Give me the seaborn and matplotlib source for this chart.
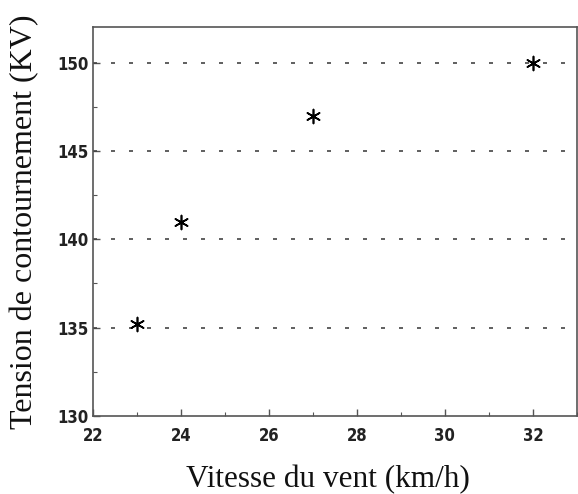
import matplotlib
matplotlib.use("Agg")
import matplotlib.pyplot as plt
import seaborn as sns
import pandas as pd
from matplotlib.ticker import MultipleLocator

# Flashover voltage versus wind speed
vitesse = [23, 24, 27, 32]
tension = [135.2, 141, 147, 150]
x_ticks = [22, 24, 26, 28, 30, 32]
y_ticks = [130, 135, 140, 145, 150]

df = pd.DataFrame({"vitesse": vitesse, "tension": tension})

sns.set_theme(style="white")
plt.rcParams["font.family"] = ["DejaVu Sans"]

fig = plt.figure(figsize=(5.78, 4.94), dpi=100)
ax = fig.add_axes([0.161, 0.158, 0.837, 0.787])

# dashed horizontal guides at the major y ticks
for yv in y_ticks[1:]:
    ax.axhline(yv, color="#444444", lw=1.2, ls=(0, (2.4, 8.4)), zorder=1)

sns.scatterplot(data=df, x="vitesse", y="tension", ax=ax,
                marker=(6, 2, 0), s=100, color="black",
                linewidth=1.2, edgecolor="black", zorder=3, legend=False)

ax.set_xlim(22, 33)
ax.set_ylim(130, 152)
ax.set_xticks(x_ticks)
ax.set_yticks(y_ticks)
ax.xaxis.set_minor_locator(MultipleLocator(1))
ax.yaxis.set_minor_locator(MultipleLocator(2.5))
ax.tick_params(axis="both", which="both", direction="in", bottom=True, left=True,
               top=False, right=False, color="#555555")
ax.tick_params(axis="both", which="major", length=5, width=1, labelsize=12)
ax.tick_params(axis="x", which="major", pad=8)
ax.tick_params(axis="y", which="major", pad=3)
ax.tick_params(axis="both", which="minor", length=3, width=0.8)
for lab in ax.get_xticklabels() + ax.get_yticklabels():
    lab.set_fontweight("bold")
    lab.set_fontstretch("condensed")
    lab.set_color("#222222")

for sp in ax.spines.values():
    sp.set_color("#555555")
    sp.set_linewidth(1.2)

ax.set_xlabel("")
ax.set_ylabel("")
fig.text(0.568, 0.03, "Vitesse du vent (km/h)", ha="center", va="center",
         fontsize=22.5, family="Liberation Serif", color="#111111")
fig.text(0.042, 0.552, "Tension de contournement (KV)", ha="center", va="center",
         rotation=90, fontsize=23, family="Liberation Serif", color="#111111")

fig.savefig("out.png", dpi=100)
